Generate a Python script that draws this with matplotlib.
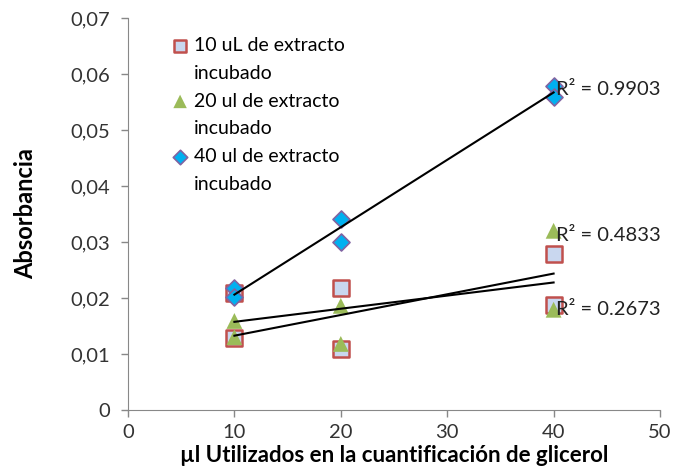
import numpy as np
import matplotlib.pyplot as plt
from matplotlib.lines import Line2D
from matplotlib.ticker import FuncFormatter

plt.rcParams['font.family'] = ['Lato', 'DejaVu Sans']

# data
x_vals = [10, 10, 20, 20, 40, 40]
y_10ul = [0.0209, 0.0129, 0.0218, 0.0109, 0.0279, 0.0188]
y_20ul = [0.0159, 0.0130, 0.0186, 0.0118, 0.0320, 0.0179]
y_40ul = [0.0218, 0.0202, 0.0341, 0.0300, 0.0579, 0.0559]
labels = ['10 uL de extracto', '20 ul de extracto', '40 ul de extracto']
r2_text = ['R² = 0.2673', 'R² = 0.4833', 'R² = 0.9903']
r2_pos = [(40.2, 0.0180), (40.2, 0.0312), (40.2, 0.0572)]

fig = plt.figure(figsize=(6.76, 4.73), dpi=100)
ax = fig.add_axes([128/676, 63/473, 532/676, 392/473])

h1 = ax.scatter(x_vals, y_10ul, marker='s', s=120, facecolor='#c9d7ef',
                edgecolor='#c0504d', linewidth=1.8, zorder=3)
h2 = ax.scatter(x_vals, y_20ul, marker='^', s=130, facecolor='#9bbb59',
                edgecolor='none', zorder=3)
h3 = ax.scatter(x_vals, y_40ul, marker='D', s=75, facecolor='#00b0f0',
                edgecolor='#8064a2', linewidth=1.2, zorder=3)

# linear trendlines
xs = np.array([10, 40])
for ys in (y_10ul, y_20ul, y_40ul):
    m, b = np.polyfit(x_vals, ys, 1)
    ax.plot(xs, m * xs + b, color='black', lw=1.5, zorder=4)

for txt, (tx, ty) in zip(r2_text, r2_pos):
    ax.text(tx, ty, txt, fontsize=14.5, va='center', ha='left',
            color='#222222', zorder=5)

ax.set_xlim(0, 50)
ax.set_ylim(0, 0.07)
ax.set_xticks(range(0, 51, 10))
ax.set_yticks(np.arange(0, 0.0701, 0.01))
ax.yaxis.set_major_formatter(FuncFormatter(
    lambda v, p: '0' if abs(v) < 1e-9 else f'{v:.2f}'.replace('.', ',')))
ax.tick_params(labelsize=14.5, colors='#888888', labelcolor='#333333',
               length=5, width=1)
ax.tick_params(axis='y', pad=8)
ax.tick_params(axis='x', pad=5)
for s in ('top', 'right'):
    ax.spines[s].set_visible(False)
for s in ('left', 'bottom'):
    ax.spines[s].set_color('#888888')

ax.set_xlabel('µl Utilizados en la cuantificación de glicerol', fontsize=16,
              fontweight='bold', labelpad=3)
ax.set_ylabel('Absorbancia', fontsize=17, fontweight='bold', labelpad=24)

# legend: marker on first line, "incubado" on its own line
blank = Line2D([], [], linestyle='none')
handles = [h1, blank, h2, blank, h3, blank]
leg_labels = [labels[0], 'incubado', labels[1], 'incubado', labels[2], 'incubado']
ax.legend(handles, leg_labels, loc='upper left', bbox_to_anchor=(0.065, 0.972),
          frameon=False, fontsize=14, handletextpad=0.2, labelspacing=0.56,
          handlelength=1.0, markerscale=0.85, borderaxespad=0)

fig.savefig('out.png', dpi=100)
